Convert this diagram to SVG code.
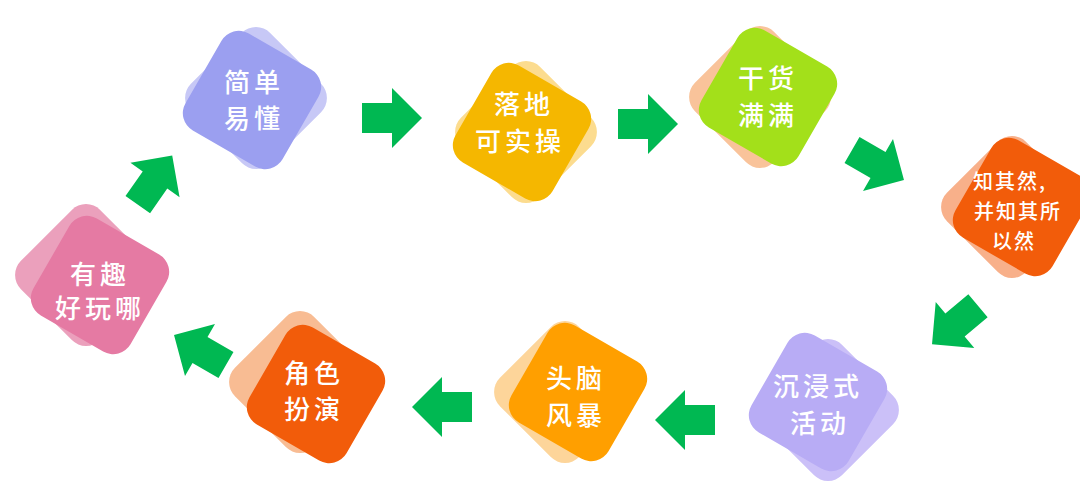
<svg xmlns="http://www.w3.org/2000/svg" width="1080" height="499" viewBox="0 0 1080 499">
<style>
text{font-family:"Noto Sans CJK SC",sans-serif;font-weight:500;fill:#fff;font-size:26px;letter-spacing:4px;text-anchor:middle}
.s{font-size:20px;letter-spacing:2px}
.a{fill:#00b852}
</style>
<defs>
<rect id="sq" x="-56" y="-56" width="112" height="112" rx="20"/>
<path id="ar" d="M-30,-15H0V-30L30,0L0,30V15H-30Z"/>
</defs>
<rect width="1080" height="499" fill="#fff"/>
<g id="n1"><use href="#sq" fill="#c7c8f6" transform="translate(256,98) rotate(45)"/><use href="#sq" fill="#9b9ff0" transform="translate(252,100) rotate(30)"/><text x="254" y="92">简单</text><text x="254" y="128">易懂</text></g>
<g id="n2"><use href="#sq" fill="#fcdc8f" transform="translate(526,132) rotate(45)"/><use href="#sq" fill="#f5b700" transform="translate(522,132) rotate(30)"/><text x="524" y="114">落地</text><text x="520" y="151">可实操</text></g>
<g id="n3"><use href="#sq" fill="#f9c39a" transform="translate(760,97) rotate(45)"/><use href="#sq" fill="#a3e01a" transform="translate(768,97) rotate(30)"/><text x="768" y="88">干货</text><text x="768" y="125">满满</text></g>
<g id="n4"><use href="#sq" fill="#f8b08a" transform="translate(1012,207) rotate(45)"/><use href="#sq" fill="#f25c0a" transform="translate(1022,207) rotate(30)"/><text class="s" x="1010" y="189">知其然,</text><text class="s" x="1018" y="219">并知其所</text><text class="s" x="1014" y="249">以然</text></g>
<g id="n5"><use href="#sq" fill="#cbc0f8" transform="translate(828,410) rotate(45)"/><use href="#sq" fill="#b8acf5" transform="translate(818,402) rotate(30)"/><text x="818" y="396">沉浸式</text><text x="820" y="433">活动</text></g>
<g id="n6"><use href="#sq" fill="#fdd59a" transform="translate(565,392) rotate(45)"/><use href="#sq" fill="#ff9f00" transform="translate(578,392) rotate(30)"/><text x="576" y="388">头脑</text><text x="576" y="425">风暴</text></g>
<g id="n7"><use href="#sq" fill="#f8bc93" transform="translate(300,382) rotate(45)"/><use href="#sq" fill="#f25c0a" transform="translate(316,394) rotate(30)"/><text x="314" y="383">角色</text><text x="314" y="419">扮演</text></g>
<g id="n8"><use href="#sq" fill="#eba0bc" transform="translate(86,275) rotate(45)"/><use href="#sq" fill="#e57aa3" transform="translate(100,285) rotate(30)"/><text x="100" y="284">有趣</text><text x="100" y="318">好玩哪</text></g>
<g id="connectors">
<use href="#ar" class="a" transform="translate(392,118)"/>
<use href="#ar" class="a" transform="translate(648,124)"/>
<use href="#ar" class="a" transform="translate(878,165) rotate(30)"/>
<use href="#ar" class="a" transform="translate(955,325) rotate(140)"/>
<use href="#ar" class="a" transform="translate(685,420) rotate(180)"/>
<use href="#ar" class="a" transform="translate(442,407) rotate(180)"/>
<use href="#ar" class="a" transform="translate(200,350) rotate(210)"/>
<use href="#ar" class="a" transform="translate(155,180) rotate(-55)"/>
</g>
</svg>
